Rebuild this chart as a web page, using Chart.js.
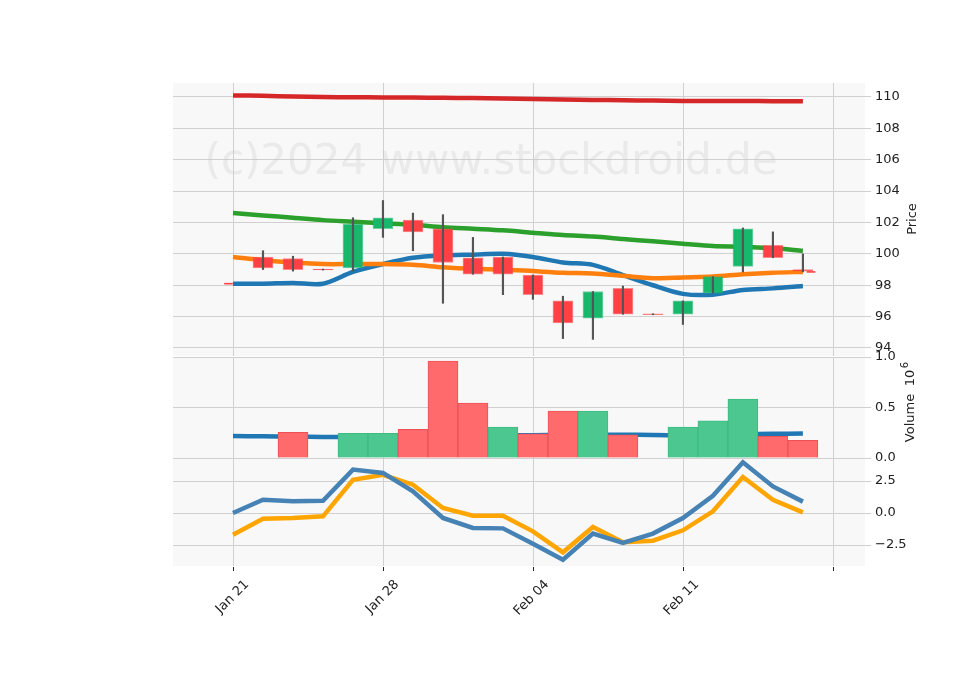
<!DOCTYPE html>
<html>
<head>
<meta charset="utf-8">
<script src="https://cdn.jsdelivr.net/npm/chart.js@4"></script>
<style>
  body { margin: 0; background: #fff; }
  .pane { position: absolute; left: 0; top: 0; width: 960px; height: 690px; }
</style>
</head>
<body>
<canvas id="pricePane" class="pane"></canvas>
<canvas id="volPane" class="pane"></canvas>
<canvas id="macdPane" class="pane"></canvas>
<script>
// x positions are trading-day indices; labels for the ticks
const tickValues = [0, 5, 10, 15, 20];
const tickLabels = { 0: 'Jan 21', 5: 'Jan 28', 10: 'Feb 04', 15: 'Feb 11', 20: '' };
const X_MIN = -2, X_MAX = 21.07;

// candles: index, open, close, high, low
const candleIdx = [1, 2, 3, 4, 5, 6, 7, 8, 9, 10, 11, 12, 13, 14, 15, 16, 17, 18, 19];
const opens  = [99.8, 99.7, 99.03, 99.1, 101.6, 102.15, 101.6, 99.75, 99.8, 98.65, 97.0, 95.9, 97.8, 96.18, 96.15, 97.5, 99.2, 100.55, 99.0];
const closes = [99.1, 99.0, 98.97, 101.9, 102.3, 101.4, 99.45, 98.7, 98.7, 97.4, 95.6, 97.6, 96.15, 96.12, 97.0, 98.55, 101.6, 99.75, 98.9];
const highs  = [100.2, 99.85, 99.03, 102.3, 103.4, 102.6, 102.5, 101.05, 99.8, 98.65, 97.3, 97.6, 97.95, 96.18, 97.0, 98.55, 101.65, 101.4, 100.0];
const lows   = [99.0, 98.9, 98.97, 98.9, 101.05, 100.2, 96.85, 98.7, 97.4, 97.1, 94.6, 94.55, 96.15, 96.12, 95.5, 97.5, 98.85, 99.75, 98.85];

// moving averages, index 0..19
const lineIdx = [0, 1, 2, 3, 4, 5, 6, 7, 8, 9, 10, 11, 12, 13, 14, 15, 16, 17, 18, 19];
const maRed    = [110.1, 110.07, 110.03, 110.0, 109.98, 109.97, 109.96, 109.95, 109.93, 109.9, 109.87, 109.84, 109.81, 109.79, 109.77, 109.75, 109.74, 109.74, 109.73, 109.72];
const maGreen  = [102.6, 102.45, 102.3, 102.15, 102.05, 101.95, 101.85, 101.7, 101.6, 101.5, 101.35, 101.2, 101.1, 100.95, 100.8, 100.65, 100.5, 100.45, 100.35, 100.2];
const maOrange = [99.8, 99.6, 99.45, 99.35, 99.35, 99.35, 99.3, 99.15, 99.05, 99.0, 98.9, 98.8, 98.75, 98.6, 98.45, 98.5, 98.55, 98.7, 98.8, 98.85];
const maBlue   = [98.1, 98.1, 98.15, 98.1, 98.85, 99.35, 99.75, 99.9, 99.95, 100.0, 99.8, 99.45, 99.3, 98.65, 98.0, 97.45, 97.4, 97.7, 97.8, 97.95];

// stray flat marks at both ends
const stubX = [-0.15, 19.27];
const stubY = [98.1, 98.85];

// volume (10^6)
const volIdx = [2, 4, 5, 6, 7, 8, 9, 10, 11, 12, 13, 15, 16, 17, 18, 19];
const volume = [0.255, 0.245, 0.245, 0.285, 0.96, 0.543, 0.305, 0.24, 0.464, 0.464, 0.23, 0.305, 0.368, 0.583, 0.215, 0.175];
const volUp  = [false, true, true, false, false, false, true, false, false, true, false, true, true, true, false, false];
const volAvg = [0.218, 0.215, 0.212, 0.208, 0.206, 0.206, 0.208, 0.212, 0.218, 0.222, 0.226, 0.228, 0.23, 0.23, 0.228, 0.225, 0.228, 0.235, 0.24, 0.242];

// oscillator
const macd   = [0, 1.04, 0.91, 0.96, 3.39, 3.13, 1.69, -0.39, -1.17, -1.2, -2.4, -3.65, -1.61, -2.34, -1.61, -0.39, 1.35, 3.96, 2.08, 0.89];
const signal = [-1.69, -0.44, -0.39, -0.26, 2.6, 2.99, 2.21, 0.39, -0.21, -0.21, -1.43, -3.07, -1.09, -2.29, -2.16, -1.35, 0.13, 2.81, 1.04, 0.05];

const UP = '#17b86b', DOWN = '#ff4044';
const GRID = '#d0d0d0';
Chart.defaults.font = { family: 'DejaVu Sans', size: 13 };
Chart.defaults.color = '#222';
Chart.defaults.animation = false;

const pts = (xs, ys) => xs.map((x, i) => ({ x: x, y: ys[i] }));
const xPix = (a, v) => Math.round(a.left + (v - X_MIN) / (X_MAX - X_MIN) * (a.right - a.left)) + 0.5;

// panel background plus vertical grid
const panelBg = {
  id: 'panelBg',
  beforeDraw(chart) {
    const a = chart.chartArea, c = chart.ctx;
    c.save();
    c.fillStyle = '#f8f8f8';
    c.fillRect(a.left, a.top, a.right - a.left, a.bottom - a.top);
    c.strokeStyle = GRID;
    c.lineWidth = 1;
    tickValues.forEach(v => {
      const px = xPix(a, v);
      c.beginPath();
      c.moveTo(px, a.top);
      c.lineTo(px, a.bottom);
      c.stroke();
    });
    c.restore();
  }
};

function sideLabel(text, x, y) {
  return {
    id: 'side' + text.replace(/\W/g, ''),
    afterDraw(chart) {
      const c = chart.ctx;
      c.save();
      c.translate(x, y);
      c.rotate(-Math.PI / 2);
      c.font = '13px DejaVu Sans';
      c.fillStyle = '#222';
      c.textAlign = 'center';
      c.textBaseline = 'middle';
      c.fillText(text, 0, 0);
      if (text === 'Volume') {
        c.fillText('10', 40, 0);
        c.font = '10px DejaVu Sans';
        c.fillText('6', 53, -6);
      }
      c.restore();
    }
  };
}

function xScale(show) {
  return {
    type: 'linear', min: X_MIN, max: X_MAX, offset: false,
    grid: { display: false },
    border: { display: false },
    ticks: {
      display: show, autoSkip: false,
      maxRotation: 45, minRotation: 45, labelOffset: 14,
      callback: v => (v in tickLabels ? tickLabels[v] : '')
    },
    afterBuildTicks: s => { s.ticks = tickValues.map(v => ({ value: v })); },
    afterFit: s => { s.height = show ? 124 : 0; }
  };
}

function yScale(min, max, step, fmt) {
  return {
    position: 'right', min: min, max: max,
    grid: { color: GRID, tickLength: 6 },
    border: { display: false },
    ticks: { stepSize: step, includeBounds: false, padding: 4, callback: fmt },
    afterFit: s => { s.width = 95; }
  };
}

const baseOpts = (pad, x, y) => ({
  responsive: false, maintainAspectRatio: false,
  layout: { padding: pad },
  plugins: { legend: { display: false }, tooltip: { enabled: false } },
  scales: { x: x, y: y }
});

function lineDs(data, color, width) {
  return { type: 'line', data: data, borderColor: color, borderWidth: width, pointRadius: 0, tension: 0.3, fill: false };
}

// tick marks under the bottom pane
const xTickMarks = {
  id: 'xTickMarks',
  afterDraw(chart) {
    const a = chart.chartArea, c = chart.ctx;
    c.save();
    c.strokeStyle = '#222';
    tickValues.forEach(v => {
      const px = xPix(a, v);
      c.beginPath();
      c.moveTo(px, a.bottom + 1);
      c.lineTo(px, a.bottom + 5);
      c.stroke();
    });
    c.restore();
  }
};

// --- price pane ---
const watermark = {
  id: 'watermark',
  afterDatasetsDraw(chart) {
    const c = chart.ctx;
    c.save();
    c.font = '42px DejaVu Sans';
    c.fillStyle = 'rgba(190,190,190,0.25)';
    c.textAlign = 'center';
    c.textBaseline = 'middle';
    c.fillText('(c)2024 www.stockdroid.de', 491, 163);
    c.restore();
  }
};

const ctxP = document.getElementById('pricePane');
ctxP.width = 960; ctxP.height = 690;
new Chart(ctxP, {
  type: 'bar',
  data: {
    datasets: [
      { data: pts(candleIdx, lows.map((l, i) => [l, highs[i]])), backgroundColor: '#555', barThickness: 1.5, grouped: false },
      { data: pts(candleIdx, opens.map((o, i) => [o, closes[i]])),
        backgroundColor: closes.map((c, i) => c >= opens[i] ? UP : DOWN), barThickness: 20, grouped: false,
        borderColor: closes.map((c, i) => c >= opens[i] ? 'rgba(23,184,107,0.6)' : 'rgba(255,64,68,0.6)'), borderWidth: 1, borderSkipped: false },
      { data: pts(stubX, stubY.map(v => [v - 0.03, v + 0.03])), backgroundColor: DOWN, barThickness: 8, grouped: false },
      lineDs(pts(lineIdx, maRed), '#d62728', 4.5),
      lineDs(pts(lineIdx, maGreen), '#2ca02c', 4.5),
      lineDs(pts(lineIdx, maOrange), '#ff7f0e', 4.5),
      lineDs(pts(lineIdx, maBlue), '#1f77b4', 4.5)
    ]
  },
  options: baseOpts({ left: 173, top: 83, bottom: 334, right: 0 }, xScale(false), yScale(93.49, 110.89, 2, v => v)),
  plugins: [panelBg, watermark, sideLabel('Price', 913, 219)]
});

// --- volume pane ---
const ctxV = document.getElementById('volPane');
ctxV.width = 960; ctxV.height = 690;
new Chart(ctxV, {
  type: 'bar',
  data: {
    datasets: [
      { data: pts(volIdx, volume), backgroundColor: volUp.map(u => u ? '#4cc790' : '#ff6b6d'),
        borderColor: volUp.map(u => u ? '#3dbb80' : '#f05055'), borderWidth: 1, barThickness: 30, grouped: false },
      lineDs(pts(lineIdx, volAvg), '#1f77b4', 4.5)
    ]
  },
  options: baseOpts({ left: 173, top: 357, bottom: 232, right: 0 }, xScale(false), yScale(0, 1.0, 0.5, v => v.toFixed(1))),
  plugins: [panelBg, sideLabel('Volume', 911, 418)]
});

// --- oscillator pane ---
const ctxM = document.getElementById('macdPane');
ctxM.width = 960; ctxM.height = 690;
new Chart(ctxM, {
  type: 'line',
  data: {
    datasets: [
      { data: pts(lineIdx, macd), borderColor: '#4682b4', borderWidth: 4.5, pointRadius: 0, tension: 0 },
      { data: pts(lineIdx, signal), borderColor: '#ffa500', borderWidth: 4.5, pointRadius: 0, tension: 0 }
    ]
  },
  options: baseOpts({ left: 173, top: 459, bottom: 0, right: 0 }, xScale(true),
    yScale(-4.14, 4.22, 2.5, v => (v < 0 ? '\u22122.5' : v.toFixed(1)))),
  plugins: [panelBg, xTickMarks]
});
</script>
</body>
</html>
